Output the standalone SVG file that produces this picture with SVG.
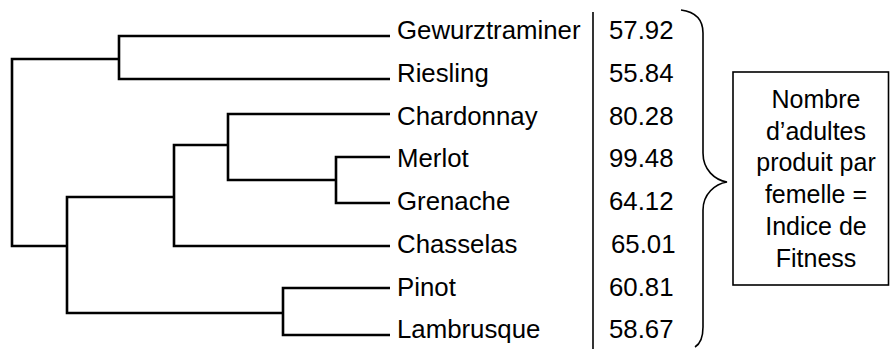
<svg xmlns="http://www.w3.org/2000/svg" width="890" height="349" viewBox="0 0 890 349">
<style>
.t{font-family:"Liberation Sans",Arial,sans-serif;font-size:25.8px;fill:#000}
.b{font-family:"Liberation Sans",Arial,sans-serif;font-size:25px;fill:#000;text-anchor:middle}
.e{fill:none;stroke:#000;stroke-width:2.6;stroke-linejoin:miter}
.thin{fill:none;stroke:#000;stroke-width:1.6}
</style>
<rect width="890" height="349" fill="#fff"/>
<g id="connectors">
<path class="e" d="M390,36 H119 V79 H390"/>
<path class="e" d="M119,59 H12 V246 H67"/>
<path class="e" d="M390,157 H336 V203 H390"/>
<path class="e" d="M390,114 H228 V180 H336"/>
<path class="e" d="M228,145 H174 V246 H390"/>
<path class="e" d="M174,197 H67 V313 H283"/>
<path class="e" d="M390,288 H283 V335 H390"/>
</g>
<g id="separator"><path class="thin" d="M593,12 V349"/></g>
<g id="gewurztraminer"><text class="t" x="397" y="39">Gewurztraminer</text><text class="t" x="609" y="39">57.92</text></g>
<g id="riesling"><text class="t" x="397" y="82">Riesling</text><text class="t" x="609" y="82">55.84</text></g>
<g id="chardonnay"><text class="t" x="397" y="125">Chardonnay</text><text class="t" x="609" y="125">80.28</text></g>
<g id="merlot"><text class="t" x="397" y="167">Merlot</text><text class="t" x="609" y="167">99.48</text></g>
<g id="grenache"><text class="t" x="397" y="210">Grenache</text><text class="t" x="609" y="210">64.12</text></g>
<g id="chasselas"><text class="t" x="397" y="253">Chasselas</text><text class="t" x="611" y="253">65.01</text></g>
<g id="pinot"><text class="t" x="397" y="296">Pinot</text><text class="t" x="609" y="296">60.81</text></g>
<g id="lambrusque"><text class="t" x="397" y="338">Lambrusque</text><text class="t" x="609" y="338">58.67</text></g>
<g id="brace"><path class="thin" d="M681,10 C696,12 703,20 703,33 L703,153 C703,170 715,180 727,182 C715,184 703,194 703,210 L703,327 C703,338 700,344 695,347"/></g>
<g id="fitness-box">
<rect class="thin" x="733" y="72" width="155.5" height="213"/>
<text class="b" x="816" y="107.5">Nombre</text>
<text class="b" x="816" y="139.5">d’adultes</text>
<text class="b" x="816" y="171">produit par</text>
<text class="b" x="816" y="203">femelle =</text>
<text class="b" x="816" y="235">Indice de</text>
<text class="b" x="816" y="267">Fitness</text>
</g>
</svg>
